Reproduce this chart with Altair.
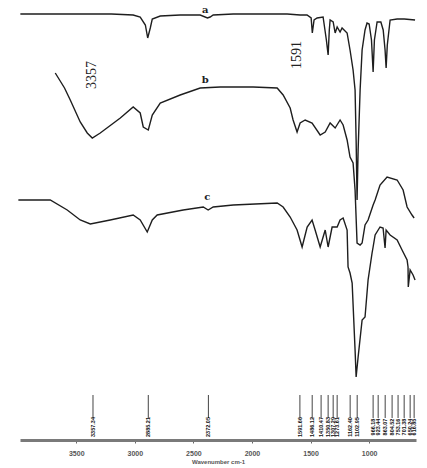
import altair as alt
import pandas as pd

# Spectrum a (wavenumber cm-1, relative transmittance)
a_wn = [3977, 3700, 3200, 3014, 2954, 2910, 2890, 2868, 2851, 2783, 2613, 2442, 2380, 2357, 2331,
        2160, 1990, 1845, 1700, 1589, 1530, 1495, 1485, 1470, 1444, 1393, 1365, 1350, 1340, 1333,
        1307, 1290, 1273, 1248, 1231, 1188, 1163, 1137, 1120, 1111, 1103, 1094, 1077, 1060, 1035,
        1018, 1000, 980, 966, 955, 932, 900, 880, 864, 855, 845, 821, 761, 700, 608]
a_t = [426, 426, 426, 425, 423, 415, 402, 412, 421, 424, 425, 425, 422, 423, 425,
       426, 426, 426, 426, 425, 425, 422, 407, 420, 422, 423, 400, 385, 410, 420,
       418, 407, 413, 408, 412, 407, 390, 370, 350, 300, 240, 290, 350, 390, 410,
       417, 416, 400, 368, 400, 418, 418, 410, 390, 372, 395, 420, 421, 421, 420]

# Spectrum b
b_wn = [3679, 3600, 3551, 3466, 3406, 3363, 3295, 3124, 3014, 2954, 2928, 2885, 2851, 2783, 2613,
        2442, 2271, 1990, 1785, 1734, 1674, 1649, 1615, 1589, 1546, 1487, 1418, 1375, 1333, 1290,
        1248, 1222, 1188, 1163, 1137, 1120, 1103, 1077, 1060, 1035, 1009, 966, 949, 907, 847,
        761, 710, 676, 634, 616]
b_t = [367, 352, 340, 318, 307, 302, 307, 322, 333, 327, 313, 310, 325, 337, 345,
       352, 353, 353, 352, 345, 332, 320, 308, 317, 320, 317, 305, 308, 317, 312,
       320, 315, 300, 283, 277, 250, 197, 195, 197, 215, 220, 235, 240, 255, 263,
       260, 250, 233, 225, 222]

# Spectrum c
c_wn = [3994, 3722, 3577, 3466, 3380, 3210, 3014, 2954, 2894, 2851, 2809, 2587, 2416, 2374, 2331,
        2160, 1785, 1734, 1674, 1615, 1572, 1529, 1487, 1461, 1418, 1375, 1350, 1316, 1273, 1248,
        1222, 1188, 1180, 1163, 1145, 1120, 1111, 1094, 1060, 1035, 1009, 975, 966, 949, 907,
        881, 864, 855, 821, 761, 719, 676, 668, 666, 650, 625, 608]
c_t = [240, 240, 230, 220, 216, 220, 225, 220, 208, 220, 225, 230, 233, 230, 233,
       235, 237, 233, 223, 210, 193, 213, 220, 210, 193, 210, 193, 213, 213, 220,
       222, 210, 173, 167, 157, 90, 63, 83, 120, 123, 160, 187, 193, 205, 213,
       212, 192, 210, 205, 200, 190, 180, 173, 153, 170, 165, 160]

# Peak markers along the bottom
peak_wn = [3357, 2885, 2372, 1591, 1486, 1410, 1350, 1307, 1273, 1162, 1102, 966,
           923, 863, 804, 753, 701, 650, 616]
peak_lbl = ["3357.34", "2885.21", "2372.05", "1591.66", "1486.12", "1410.47", "1350.83",
            "1307.29", "1273.61", "1162.40", "1102.95", "966.18", "923.44", "863.07",
            "804.52", "753.16", "701.38", "650.24", "616.85"]

# Curve letters and band annotations
ann_wn = [2399, 2399, 2382]
ann_t = [427, 357, 240]
ann_txt = ["a", "b", "c"]
band_wn = [3363, 1615]
band_t = [365, 385]
band_txt = ["3357", "1591"]

rows = []
for name, wn, t in (("a", a_wn, a_t), ("b", b_wn, b_t), ("c", c_wn, c_t)):
    for i, (w, v) in enumerate(zip(wn, t)):
        rows.append({"series": name, "wn": w, "T": v, "i": i})
spec = pd.DataFrame(rows)

peaks = pd.DataFrame({"wn": peak_wn, "lbl": peak_lbl,
                      "top": [45] * len(peak_wn), "bot": [22] * len(peak_wn),
                      "ly": [13] * len(peak_wn)})
ann = pd.DataFrame({"wn": ann_wn, "T": ann_t, "txt": ann_txt})
bands = pd.DataFrame({"wn": band_wn, "T": band_t, "txt": band_txt})

xs = alt.Scale(domain=[600, 3980], reverse=True, nice=False, zero=False)
ys = alt.Scale(domain=[0, 432], nice=False, zero=False)

xaxis = alt.Axis(values=[3500, 3000, 2500, 2000, 1500, 1000], format="d",
                 title="Wavenumber cm-1", grid=False, domainColor="#7a7a7a",
                 domainWidth=3, tickColor="#666", tickSize=3, tickWidth=1,
                 labelFontSize=7, labelFontWeight="bold", labelColor="#555",
                 labelPadding=6, titleFontSize=6, titleColor="#555",
                 titleFontWeight="bold", titlePadding=2)

lines = alt.Chart(spec).mark_line(color="#1e1e1e", strokeWidth=1.4).encode(
    x=alt.X("wn:Q", scale=xs, axis=xaxis),
    y=alt.Y("T:Q", scale=ys, axis=None),
    detail="series:N",
    order="i:Q",
)

rules = alt.Chart(peaks).mark_rule(color="#444", strokeWidth=1).encode(
    x=alt.X("wn:Q", scale=xs),
    y=alt.Y("top:Q", scale=ys),
    y2="bot:Q",
)

plabels = alt.Chart(peaks).mark_text(angle=270, fontSize=5.5, fontWeight="bold",
                                     color="#111", align="center", baseline="middle").encode(
    x=alt.X("wn:Q", scale=xs),
    y=alt.Y("ly:Q", scale=ys),
    text="lbl:N",
)

letters = alt.Chart(ann).mark_text(font="DejaVu Serif", fontSize=10, fontWeight="bold",
                                   color="#222", baseline="alphabetic").encode(
    x=alt.X("wn:Q", scale=xs),
    y=alt.Y("T:Q", scale=ys),
    text="txt:N",
)

bandtxt = alt.Chart(bands).mark_text(font="Liberation Serif", fontSize=14, angle=270,
                                     color="#222", baseline="middle").encode(
    x=alt.X("wn:Q", scale=xs),
    y=alt.Y("T:Q", scale=ys),
    text="txt:N",
)

chart = alt.layer(lines, rules, plabels, letters, bandtxt).properties(
    width=396, height=432,
    autosize=alt.AutoSizeParams(type="none"),
    padding={"left": 12, "top": 0, "right": 3, "bottom": 28},
    background="white",
).configure_view(stroke=None)

chart.save("out.html", embed_options={"renderer": "svg", "actions": False})
